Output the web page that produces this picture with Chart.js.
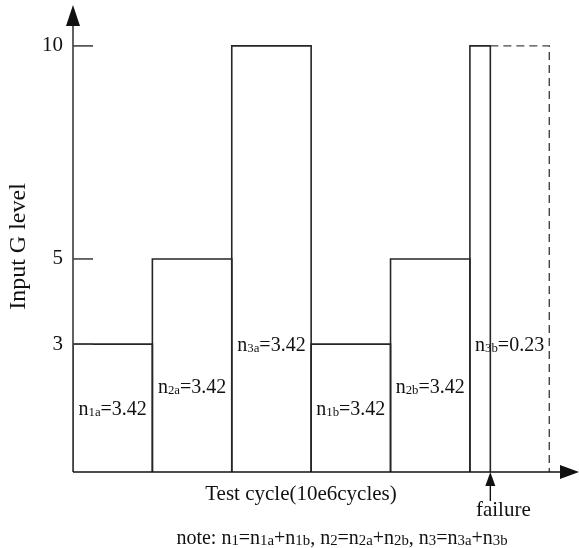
<!DOCTYPE html>
<html>
<head>
<meta charset="utf-8">
<script src="https://cdn.jsdelivr.net/npm/chart.js@4.4.0/dist/chart.umd.min.js"></script>
<style>
  html, body { margin: 0; padding: 0; background: #fff; }
  #wrap { width: 579px; height: 548px; }
</style>
</head>
<body>
<div id="wrap"><canvas id="myChart" width="579" height="548"></canvas></div>
<script>
// load steps (G level) and the cycles spent at each one
const levels = [3, 5, 10, 3, 5, 10];
const cycles = [3.42, 3.42, 3.42, 3.42, 3.42, 0.88]; // last one is drawn wider than 0.23
const plannedLast = 3.42;               // dashed: block that was planned for n3b
const yTicks = [3, 5, 10];
const barNames = ['1a', '2a', '3a', '1b', '2b', '3b'];
const barValues = ['3.42', '3.42', '3.42', '3.42', '3.42', '0.23'];

const serif = '"Liberation Serif", "DejaVu Serif", serif';
const ink = '#262626';

// build the rectangle outlines from the arrays
const starts = [];
let acc = 0;
cycles.forEach(c => { starts.push(acc); acc += c; });

const datasets = levels.map((h, i) => ({
  data: [
    {x: starts[i], y: 0}, {x: starts[i], y: h},
    {x: starts[i] + cycles[i], y: h}, {x: starts[i] + cycles[i], y: 0}
  ],
  showLine: true,
  borderColor: ink,
  borderWidth: 1.6,
  pointRadius: 0,
  tension: 0,
  fill: false
}));
const lastStart = starts[starts.length - 1];
const lastH = levels[levels.length - 1];
datasets.push({
  data: [
    {x: lastStart + cycles[cycles.length - 1], y: lastH},
    {x: lastStart + plannedLast, y: lastH},
    {x: lastStart + plannedLast, y: 0}
  ],
  showLine: true,
  borderColor: '#444',
  borderWidth: 1.4,
  borderDash: [8, 5],
  pointRadius: 0,
  tension: 0,
  fill: false
});

function drawRich(ctx, parts, cx, cy, size, sub) {
  // parts: [text, isSub]
  sub = sub || 0.64;
  let w = 0;
  parts.forEach(p => {
    ctx.font = (p[1] ? size * sub : size) + 'px ' + serif;
    w += ctx.measureText(p[0]).width;
  });
  let x = cx - w / 2;
  ctx.textAlign = 'left';
  ctx.textBaseline = 'alphabetic';
  parts.forEach(p => {
    ctx.font = (p[1] ? size * sub : size) + 'px ' + serif;
    ctx.fillText(p[0], x, cy + size * 0.33 + (p[1] ? 1 : 0));
    x += ctx.measureText(p[0]).width;
  });
}

const decor = {
  id: 'decor',
  afterDraw(chart) {
    const ctx = chart.ctx;
    const xs = chart.scales.x, ys = chart.scales.y;
    const a = chart.chartArea;
    ctx.save();
    ctx.strokeStyle = '#3a3a3a';
    ctx.fillStyle = '#111';
    ctx.lineWidth = 1.6;

    // y axis with arrow
    ctx.beginPath();
    ctx.moveTo(a.left, a.bottom);
    ctx.lineTo(a.left, a.top + 18);
    ctx.stroke();
    ctx.beginPath();
    ctx.moveTo(a.left, a.top);
    ctx.lineTo(a.left - 7, a.top + 21);
    ctx.lineTo(a.left + 7, a.top + 21);
    ctx.closePath();
    ctx.fill();

    // x axis with arrow
    ctx.strokeStyle = '#111';
    ctx.beginPath();
    ctx.moveTo(a.left, a.bottom);
    ctx.lineTo(a.right - 16, a.bottom);
    ctx.stroke();
    ctx.beginPath();
    ctx.moveTo(a.right, a.bottom);
    ctx.lineTo(a.right - 19, a.bottom - 7);
    ctx.lineTo(a.right - 19, a.bottom + 7);
    ctx.closePath();
    ctx.fill();

    // inner ticks + labels
    ctx.strokeStyle = '#444';
    ctx.fillStyle = '#111';
    yTicks.forEach(v => {
      const py = ys.getPixelForValue(v);
      ctx.beginPath();
      ctx.moveTo(a.left, py);
      ctx.lineTo(a.left + 20, py);
      ctx.stroke();
      ctx.font = '21px ' + serif;
      ctx.textAlign = 'right';
      ctx.textBaseline = 'middle';
      ctx.fillText(String(v), a.left - 10, py);
    });

    // bar labels
    const labelY = [1.5, 2, 3, 1.5, 2, 3];
    barNames.forEach((nm, i) => {
      let x0 = starts[i], x1 = starts[i] + cycles[i];
      if (i === barNames.length - 1) x1 = starts[i] + plannedLast;
      const cx = xs.getPixelForValue((x0 + x1) / 2);
      const cy = ys.getPixelForValue(labelY[i]);
      drawRich(ctx, [['n', 0], [nm, 1], ['=' + barValues[i], 0]], cx, cy, 20);
    });

    // failure arrow
    const fx = xs.getPixelForValue(lastStart + cycles[cycles.length - 1]);
    ctx.strokeStyle = '#111';
    ctx.lineWidth = 1.4;
    ctx.beginPath();
    ctx.moveTo(fx, a.bottom + 10);
    ctx.lineTo(fx, a.bottom + 29);
    ctx.stroke();
    ctx.beginPath();
    ctx.moveTo(fx, a.bottom);
    ctx.lineTo(fx - 5, a.bottom + 14);
    ctx.lineTo(fx + 5, a.bottom + 14);
    ctx.closePath();
    ctx.fill();

    ctx.font = '21px ' + serif;
    ctx.textAlign = 'center';
    ctx.textBaseline = 'middle';
    ctx.fillText('failure', fx + 13, a.bottom + 38);

    // axis titles
    ctx.fillText('Test cycle(10e6cycles)', a.left + 228, a.bottom + 22);
    ctx.save();
    ctx.translate(19, (a.top + a.bottom) / 2 + 8);
    ctx.rotate(-Math.PI / 2);
    ctx.font = '24px ' + serif;
    ctx.fillText('Input G level', 0, 0);
    ctx.restore();

    // note
    drawRich(ctx, [
      ['note: n', 0], ['1', 1], ['=n', 0], ['1a', 1], ['+n', 0], ['1b', 1],
      [', n', 0], ['2', 1], ['=n', 0], ['2a', 1], ['+n', 0], ['2b', 1],
      [', n', 0], ['3', 1], ['=n', 0], ['3a', 1], ['+n', 0], ['3b', 1]
    ], a.left + 269, a.bottom + 65, 20, 0.74);

    ctx.restore();
  }
};

const myChart = new Chart(document.getElementById('myChart'), {
  type: 'scatter',
  data: { datasets: datasets },
  options: {
    responsive: false,
    animation: false,
    layout: { padding: { left: 73, right: 0, top: 5, bottom: 76 } },
    scales: {
      x: { type: 'linear', display: false, min: 0, max: 21.8 },
      y: { type: 'linear', display: false, min: 0, max: 10.96 }
    },
    plugins: {
      legend: { display: false },
      tooltip: { enabled: false }
    }
  },
  plugins: [decor]
});
</script>
</body>
</html>
